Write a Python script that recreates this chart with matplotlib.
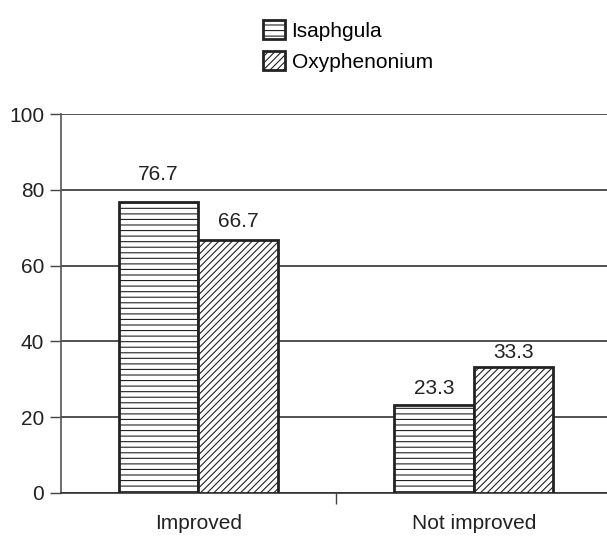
import matplotlib
matplotlib.use("Agg")
import matplotlib.pyplot as plt
import numpy as np

categories = ["Improved", "Not improved"]
isaphgula = [76.7, 23.3]
oxyphenonium = [66.7, 33.3]
series_names = ["Isaphgula", "Oxyphenonium"]
label_offsets = [[13.5, 5], [6.7, 3.2]]  # points above bar top, per series/category

plt.rcParams["font.family"] = ["Liberation Sans", "DejaVu Sans"]
plt.rcParams["hatch.linewidth"] = 0.8

fig = plt.figure(figsize=(6.07, 5.36), dpi=100)
ax = fig.add_axes([0.1, 0.0806, 0.9, 0.7062])

x = np.arange(len(categories))
w = 0.289
b1 = ax.bar(x - w / 2, isaphgula, w, color="white", edgecolor="#222222",
            linewidth=2, hatch="---", label=series_names[0], zorder=3)
b2 = ax.bar(x + w / 2, oxyphenonium, w, color="white", edgecolor="#222222",
            linewidth=2, hatch="/////", label=series_names[1], zorder=3)

for k, (bars, vals) in enumerate(((b1, isaphgula), (b2, oxyphenonium))):
    for j, (rect, v) in enumerate(zip(bars, vals)):
        ax.annotate(f"{v:.1f}", (rect.get_x() + rect.get_width() / 2, v),
                    xytext=(0, label_offsets[k][j]), textcoords="offset points",
                    ha="center", va="bottom", fontsize=15, color="#222222")

ax.set_ylim(0, 100)
ax.set_xlim(-0.5, 1.484)
ax.set_yticks([0, 20, 40, 60, 80, 100])
ax.yaxis.grid(True, color="#333333", linewidth=1.2, zorder=0)
ax.set_axisbelow(True)

# category divider tick at the bottom
ax.set_xticks([0.5])
ax.set_xticklabels([""])
ax.tick_params(axis="x", direction="out", length=8, width=1, color="#444444")
ax.tick_params(axis="y", length=8, width=1, color="#444444",
               labelsize=15, labelcolor="#222222", pad=4)
for i, c in enumerate(categories):
    ax.text(i, -9.6, c, ha="center", va="baseline", fontsize=15, color="#222222")

for s in ("top", "right"):
    ax.spines[s].set_visible(False)
ax.spines["left"].set_color("#555555")
ax.spines["left"].set_linewidth(1.2)
ax.spines["bottom"].set_color("#333333")
ax.spines["bottom"].set_linewidth(1.2)

fig.legend(loc="upper left", bbox_to_anchor=(0.41, 0.99), frameon=False,
           fontsize=15, handlelength=1.05, handleheight=1.05,
           handletextpad=0.3, labelspacing=0.5, borderaxespad=0.3)

fig.savefig("out.png", dpi=100)
